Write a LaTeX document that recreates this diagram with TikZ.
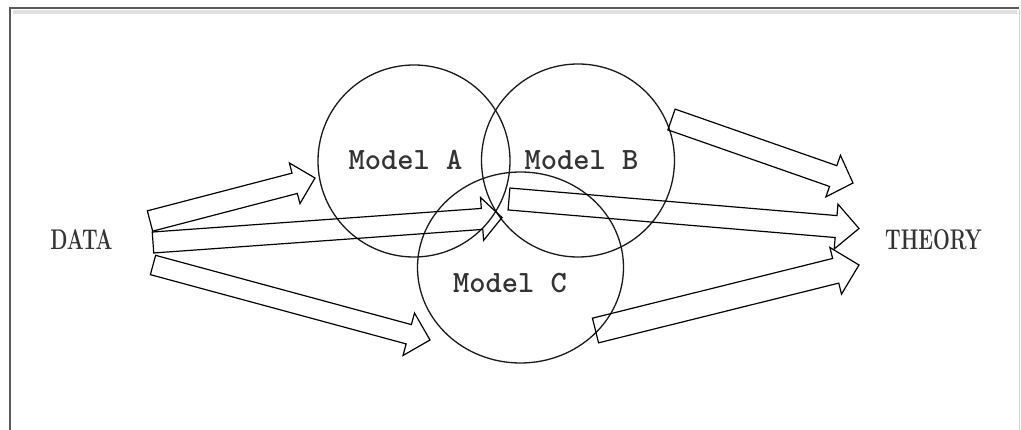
\documentclass[tikz,border=0pt]{standalone}
\usetikzlibrary{calc,shapes.geometric}

% hollow block arrow: tail, tip, half shaft width, half head width, head length
\newcommand\blockarrow[5]{%
  \path ($(#2)!#5!(#1)$) coordinate (hb);
  \draw[hollowarrow]
    ($(#1)!#3!90:(#2)$) -- ($(hb)!#3!-90:(#1)$) -- ($(hb)!#4!-90:(#1)$)
    -- (#2) --
    ($(hb)!#4!90:(#1)$) -- ($(hb)!#3!90:(#1)$) -- ($(#1)!#3!-90:(#2)$) -- cycle;}

\begin{document}
\begin{tikzpicture}[x=1pt,y=-1pt,
  ring/.style={circle,draw=black!90,line width=1.3pt,inner sep=0pt},
  ovalring/.style={ellipse,draw=black!90,line width=1.3pt,inner sep=0pt},
  modellabel/.style={inner sep=0pt,text=black!80,font=\fontsize{31}{31}\selectfont\ttfamily\bfseries},
  endlabel/.style={inner sep=0pt,text=black!80,xscale=0.7,font=\fontsize{28.5}{28.5}\selectfont\rmfamily\bfseries},
  hollowarrow/.style={draw=black,line width=1.2pt,line join=miter}]
\useasboundingbox (0,0) rectangle (1021,430);

% frame, open at the bottom
\draw[black!12,line width=4pt] (13,12) -- (1017,12);
\draw[black!65,line width=2.8pt] (10,430) -- (10,8) -- (1019,8);
\draw[black!18,line width=1pt] (1019,9) -- (1019,430);

% end labels
\node[endlabel] (data) at (81.5,240) {DATA};
\node[endlabel] (theory) at (933.5,239.5) {THEORY};

% model rings
\node[ring,minimum size=192pt] (A) at (414,161) {};
\node[ring,minimum size=193pt] (B) at (578,160.5) {};
\node[ovalring,minimum width=206pt,minimum height=191pt] (C) at (520.5,267.5) {};
\node[modellabel] (la) at (405.5,160) {Model A};
\node[modellabel] (lb) at (581.5,160) {Model B};
\node[modellabel] (lc) at (510,283.5) {Model C};

% arrow ends
\coordinate (d1) at (150,221);    \coordinate (a1) at (315,178);
\coordinate (d2) at (153,242.5);  \coordinate (a2) at (502,217.5);
\coordinate (d3) at (153,265);    \coordinate (a3) at (430,340);
\coordinate (b1) at (671.5,119.5);\coordinate (t1) at (853,183);
\coordinate (b2) at (509,199);    \coordinate (t2) at (859,228.5);
\coordinate (c1) at (595.5,330.5);\coordinate (t3) at (859,265);

% data towards the models
\blockarrow{d1}{a1}{10.5pt}{21pt}{21pt}
\blockarrow{d2}{a2}{10.5pt}{21.5pt}{20pt}
\blockarrow{d3}{a3}{10pt}{22pt}{22pt}

% models towards theory
\blockarrow{b1}{t1}{11pt}{22pt}{21pt}
\blockarrow{b2}{t2}{11pt}{22.5pt}{23pt}
\blockarrow{c1}{t3}{12.7pt}{24pt}{24pt}
\end{tikzpicture}
\end{document}
